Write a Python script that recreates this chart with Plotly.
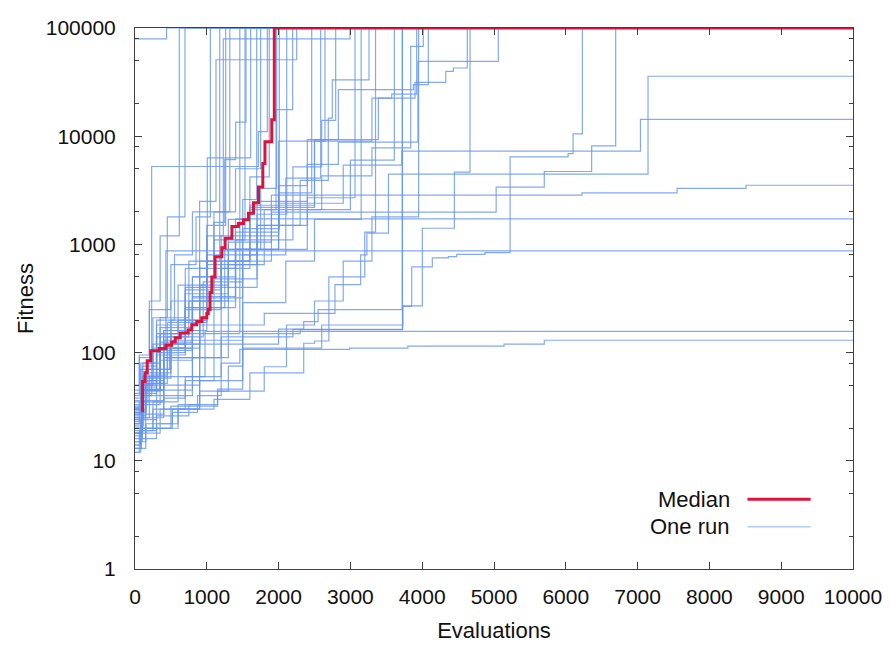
import plotly.graph_objects as go

# ---------------- data (evaluations, fitness) ----------------
median_evals = [90, 105, 140, 170, 220, 340, 430, 510, 560, 630, 740, 790, 860, 930, 1000,
                1020, 1045, 1070, 1115, 1210, 1255, 1350, 1440, 1510, 1580, 1650, 1720,
                1780, 1810, 1905, 1940, 10000]
median_fitness = [29, 54, 65, 84, 104, 109, 117, 125, 137, 152, 162, 181, 194, 210, 230,
                  250, 360, 500, 770, 930, 1140, 1460, 1560, 1690, 1940, 2420, 3400,
                  5600, 8900, 14200, 100000, 100000]

# each run: list of (evaluation, fitness) at which its best fitness changed
run_01 = [(0, 22), (60, 35), (180, 70), (480, 110), (900, 180), (1800, 230), (2785, 425), (3143, 800), (3230, 1270), (3530, 4470), (7145, 35800)]
run_02 = [(0, 18), (90, 40), (300, 95), (700, 260), (1250, 900), (2000, 2400), (2900, 5400), (3715, 7290), (7040, 14300)]
run_03 = [(0, 25), (120, 50), (400, 130), (900, 420), (1300, 1050), (1900, 2850), (6225, 3000), (7550, 3290), (8510, 3520)]
run_04 = [(0, 15), (150, 22), (520, 30), (900, 60), (1200, 600), (1400, 1720)]
run_05 = [(0, 30), (100, 55), (250, 110), (430, 870)]
run_06 = [(0, 20), (90, 25), (400, 38), (700, 60), (975, 157)]
run_07 = [(0, 16), (100, 20), (520, 28), (870, 40), (1200, 80), (1460, 107), (2990, 110), (3800, 115), (5140, 120), (5700, 130)]
run_08 = [(0, 79400), (440, 100000)]
run_09 = [(0, 40), (60, 90), (200, 300), (350, 1200), (617, 100000)]
run_10 = [(0, 35), (80, 70), (250, 210), (450, 1800), (696, 100000)]
run_11 = [(0, 28), (120, 55), (300, 150), (600, 420), (1007, 6300), (1611, 100000)]
run_12 = [(0, 32), (100, 40), (232, 5250), (1718, 11000), (1843, 100000)]
run_13 = [(0, 30), (150, 70), (500, 300), (900, 2500), (1128, 50900), (2252, 100000)]
run_14 = [(0, 25), (200, 60), (600, 200), (1000, 1200), (1230, 79400), (2994, 100000)]
run_15 = [(0, 45), (80, 80), (300, 180), (700, 600), (1000, 1500), (1263, 100000)]
run_16 = [(0, 20), (100, 45), (400, 120), (800, 500), (1100, 1600), (1250, 6070), (1402, 13500), (1546, 100000)]
run_17 = [(0, 38), (120, 60), (350, 150), (700, 400), (1100, 1100), (1532, 100000)]
run_18 = [(0, 30), (100, 50), (300, 140), (750, 300), (1200, 900), (1500, 2600), (1695, 100000)]
run_19 = [(0, 24), (100, 48), (300, 110), (700, 350), (1300, 1700), (1600, 4200), (1870, 100000)]
run_20 = [(0, 22), (90, 42), (300, 100), (700, 250), (1200, 700), (1600, 2100), (1964, 17600), (2196, 100000)]
run_21 = [(0, 19), (100, 36), (400, 90), (900, 300), (1400, 900), (1750, 3300), (1973, 100000)]
run_22 = [(0, 26), (150, 52), (450, 140), (950, 450), (1500, 1400), (2010, 100000)]
run_23 = [(0, 17), (80, 24), (300, 40), (800, 90), (1300, 650), (1700, 1900), (2113, 100000)]
run_24 = [(0, 33), (100, 60), (350, 170), (800, 500), (1400, 1300), (2000, 3000), (2461, 100000)]
run_25 = [(0, 21), (120, 27), (400, 50), (900, 130), (1500, 800), (2100, 4100), (2586, 100000)]
run_26 = [(0, 27), (80, 50), (250, 120), (700, 380), (1200, 1200), (2000, 9000), (2646, 100000)]
run_27 = [(0, 23), (100, 44), (350, 105), (800, 330), (1400, 1100), (2200, 5200), (2600, 14000), (2795, 100000)]
run_28 = [(0, 29), (150, 58), (500, 150), (1100, 480), (1700, 1500), (2400, 2700), (3064, 100000)]
run_29 = [(0, 20), (100, 45), (400, 120), (900, 400), (1700, 1500), (2300, 3900), (2692, 14700), (2748, 33200), (3259, 100000)]
run_30 = [(0, 24), (90, 46), (350, 125), (800, 320), (1500, 900), (2400, 2100), (3000, 6000), (3612, 100000)]
run_31 = [(0, 20), (150, 45), (800, 120), (1500, 150), (2300, 163), (3725, 100000)]
run_32 = [(0, 14), (80, 19), (250, 30), (700, 55), (1500, 110), (2600, 180), (3729, 268), (3854, 620), (4141, 750), (4364, 770), (4481, 810), (4875, 840), (5224, 6440), (6032, 6900), (6101, 10500), (6231, 100000)]
run_33 = [(0, 27), (100, 52), (400, 160), (1000, 650), (1800, 2100), (2600, 4300), (3300, 7800), (3840, 67700), (4015, 100000)]
run_34 = [(0, 31), (120, 62), (450, 190), (1000, 700), (1600, 2300), (2500, 9300), (3389, 22500), (3575, 24500), (3923, 100000)]
run_35 = [(0, 18), (100, 33), (350, 85), (800, 260), (1400, 900), (2000, 3500), (2400, 9300), (2832, 26900), (3877, 30000), (4085, 100000)]
run_36 = [(0, 28), (150, 65), (500, 200), (1000, 800), (1700, 2500), (2400, 5500), (2832, 8820), (3940, 49100), (5060, 100000)]
run_37 = [(0, 18), (100, 35), (400, 90), (1200, 140), (2200, 164), (3728, 270), (4002, 1410), (4448, 4650), (4666, 100000)]
run_38 = [(0, 25), (100, 55), (400, 160), (900, 600), (1600, 2200), (2500, 9000), (3300, 22500), (3900, 31500), (4328, 39700), (4434, 42700), (4628, 100000)]
run_39 = [(0, 22), (100, 45), (350, 110), (800, 300), (1300, 700), (1900, 1990), (5030, 3380), (5700, 4720), (6360, 8150), (6695, 100000)]
run_40 = [(0, 14), (70, 20), (250, 35), (600, 60), (900, 700), (1180, 100000)]
run_41 = [(0, 36), (100, 75), (300, 200), (550, 800), (800, 2000), (1320, 100000)]
run_42 = [(0, 12), (80, 16), (300, 22), (600, 33), (900, 55), (1100, 150), (1460, 100000)]
run_43 = [(0, 50), (60, 95), (200, 250), (500, 650), (850, 1800), (1050, 100000)]
run_44 = [(0, 13), (90, 18), (350, 30), (900, 44), (1300, 75), (1500, 290), (2100, 700), (2500, 1700), (3150, 100000)]
run_45 = [(0, 42), (110, 80), (350, 210), (750, 700), (1100, 2000), (1400, 5000), (1750, 100000)]
run_46 = [(0, 13), (150, 20), (500, 32), (1150, 44), (1800, 74), (2110, 180), (2500, 300), (2900, 700), (3300, 1800), (3950, 100000)]
run_47 = [(0, 15), (100, 20), (600, 30), (1100, 37), (1600, 65), (2350, 122), (2500, 128), (2700, 500), (3200, 1300), (3350, 100000)]
run_48 = [(0, 12), (60, 19), (300, 26), (750, 33), (1150, 46), (1500, 120), (2000, 165), (2350, 193), (2550, 250), (3722, 100000)]

runs = [run_01, run_02, run_03, run_04, run_05, run_06, run_07, run_08, run_09, run_10,
        run_11, run_12, run_13, run_14, run_15, run_16, run_17, run_18, run_19, run_20,
        run_21, run_22, run_23, run_24, run_25, run_26, run_27, run_28, run_29, run_30,
        run_31, run_32, run_33, run_34, run_35, run_36, run_37, run_38, run_39, run_40,
        run_41, run_42, run_43, run_44, run_45, run_46, run_47, run_48]

x_max = 10000
y_tick_vals = [1, 10, 100, 1000, 10000, 100000]
y_tick_text = ["1", "10", "100", "1000", "10000", "100000"]
y_minor_vals = [m * 10 ** d for d in range(0, 5) for m in (2, 5, 8)]
x_tick_vals = list(range(0, 10001, 1000))
x_tick_text = [str(v) for v in x_tick_vals]

# ---------------- figure ----------------
FONT = "Liberation Sans, Arial, Helvetica, sans-serif"
RUN_COLOR = "rgba(100,149,237,0.8)"
MED_COLOR = "#dc143c"
AXIS_COLOR = "#404040"

fig = go.Figure()
for r in runs:
    xs = [p[0] for p in r] + [x_max]
    ys = [p[1] for p in r] + [r[-1][1]]
    fig.add_trace(go.Scatter(x=xs, y=ys, mode="lines", line=dict(color=RUN_COLOR, width=1.2, shape="hv"),
                             showlegend=False, hoverinfo="skip"))

fig.add_trace(go.Scatter(x=median_evals, y=median_fitness, mode="lines",
                         line=dict(color=MED_COLOR, width=3, shape="hv"), showlegend=False))

fig.update_layout(
    width=890, height=646,
    margin=dict(l=135, r=37, t=28, b=77),
    paper_bgcolor="white", plot_bgcolor="white",
    font=dict(family=FONT, size=22, color="#111111"),
    showlegend=False,
)
fig.update_xaxes(
    range=[0, x_max], tickvals=x_tick_vals, ticktext=x_tick_text, ticks="inside", ticklen=7,
    tickcolor=AXIS_COLOR, showline=True, linecolor=AXIS_COLOR, linewidth=1, mirror="allticks",
    showgrid=False, zeroline=False, tickfont=dict(size=21), ticklabelstandoff=9, automargin=False,
    title=dict(text="Evaluations", font=dict(size=22), standoff=15),
)
fig.update_yaxes(
    type="log", range=[0, 5], tickvals=y_tick_vals, ticktext=y_tick_text,
    ticks="inside", ticklen=7, tickcolor=AXIS_COLOR,
    minor=dict(tickvals=y_minor_vals, ticks="inside", ticklen=4, tickcolor=AXIS_COLOR, showgrid=False),
    showline=True, linecolor=AXIS_COLOR, linewidth=1, mirror="allticks", showgrid=False,
    zeroline=False, tickfont=dict(size=21), ticklabelstandoff=14, automargin=False,
    title=dict(text="Fitness", font=dict(size=22), standoff=6),
)

# legend drawn gnuplot-style: text on the left, sample line on the right
legend_items = [("Median", MED_COLOR, 3, 0.129), ("One run", "rgba(100,149,237,0.5)", 1.5, 0.078)]
for label, color, width, yy in legend_items:
    fig.add_annotation(x=0.831, y=yy, xref="paper", yref="paper", text=label, showarrow=False,
                       xanchor="right", yanchor="middle", font=dict(size=22, color="#111111"))
    fig.add_shape(type="line", xref="paper", yref="paper", x0=0.853, x1=0.941, y0=yy, y1=yy,
                  line=dict(color=color, width=width))

fig.write_html("out.html")
